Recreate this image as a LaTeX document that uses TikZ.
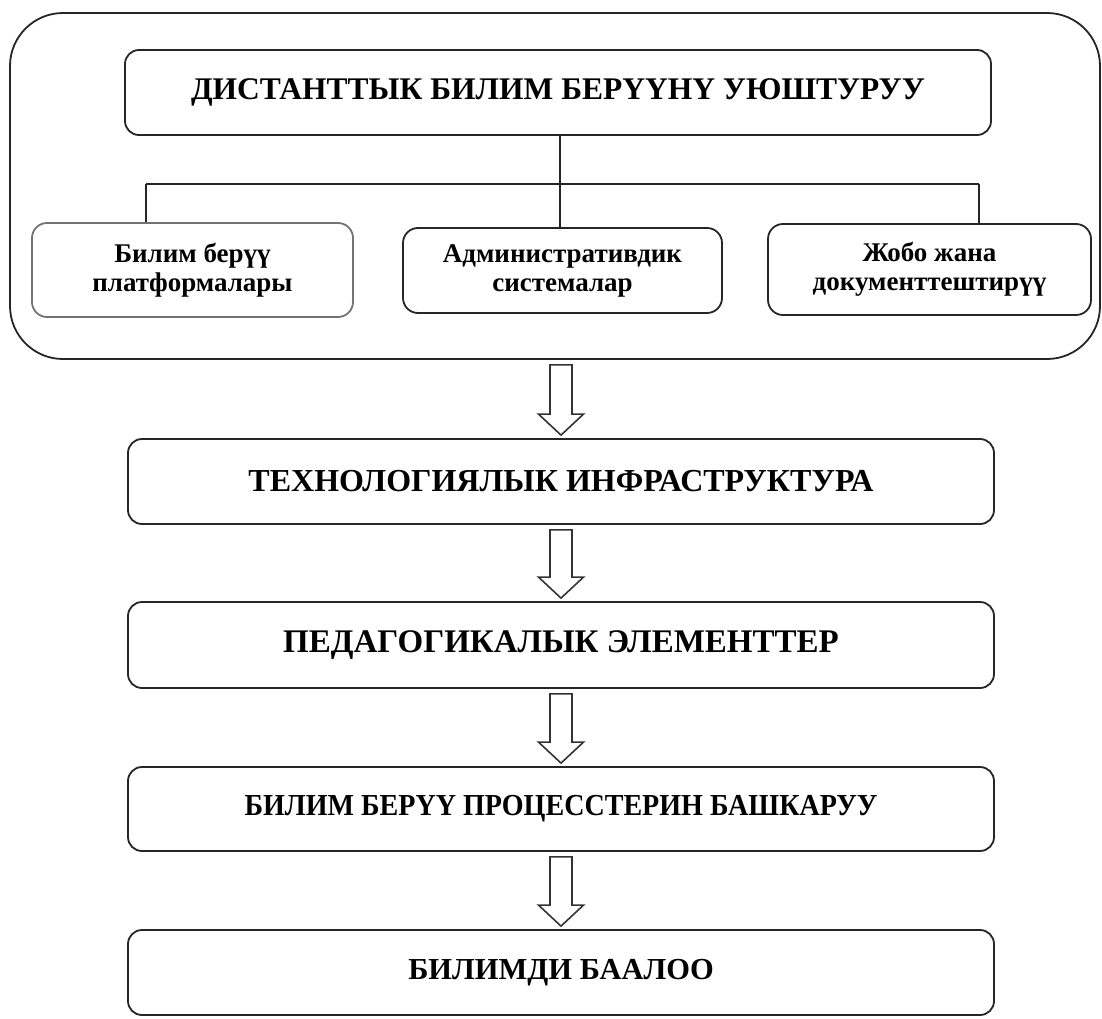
\documentclass[tikz,border=0pt]{standalone}
\usepackage{fontspec}
\setmainfont{Liberation Serif}
\usetikzlibrary{calc}
\newcommand\hollowarrow[2]{%
  \coordinate (ta) at ($(#1.south -| #2.north)+(0,5)$);
  \coordinate (tb) at ($(#2.north)+(0,-3)$);
  \draw[arrowline] ($(ta)+(-11,0)$) -- ($(tb)+(-11,-21)$) -- ($(tb)+(-22.5,-21)$) -- (tb)
    -- ($(tb)+(22.5,-21)$) -- ($(tb)+(11,-21)$) -- ($(ta)+(11,0)$) -- cycle;}
\newcommand\fsz[1]{\fontsize{#1}{#1}\selectfont\bfseries}
\begin{document}
\begin{tikzpicture}[x=1pt,y=-1pt,
  frame/.style={draw=black!85,line width=1.8pt,rounded corners=53pt,minimum width=1090pt,minimum height=346pt},
  mainbox/.style={draw=black!85,line width=1.8pt,rounded corners=14pt,minimum width=866pt,inner sep=0pt},
  subbox/.style={draw=black!85,line width=1.8pt,rounded corners=15pt,align=center,
    font=\fontsize{27}{29}\selectfont\bfseries,inner sep=0pt},
  conn/.style={draw=black!85,line width=1.6pt},
  arrowline/.style={draw=black!80,line width=1.6pt,fill=white,line join=miter}]
\useasboundingbox (0,0) rectangle (1102,1019);
\fill[white] (0,0) rectangle (1102,1019);
\node[frame] (outer) at (555,186) {};
\node[mainbox,minimum height=85pt,font=\fsz{31.5}] (top) at (558,92.5) {ДИСТАНТТЫК БИЛИМ БЕРҮҮНҮ УЮШТУРУУ};
\node[subbox,draw=black!55,minimum width=321pt,minimum height=94pt] (left) at (192.5,270) {Билим берүү\\платформалары};
\node[subbox,minimum width=319pt,minimum height=85pt] (mid) at (562.5,270.5) {Административдик\\системалар};
\node[subbox,minimum width=323pt,minimum height=91pt] (right) at (929.5,269.5) {Жобо жана\\документтештирүү};
\coordinate (jn) at (560,184);
\coordinate (hl) at (146,184);
\coordinate (hr) at (979,184);
\draw[conn] (top.south -| jn) -- (jn);
\draw[conn] (hl) -- (hr);
\draw[conn] (hl) -- (hl |- left.north);
\draw[conn] (jn) -- (jn |- mid.north);
\draw[conn] (hr) -- (hr |- right.north);
\node[mainbox,minimum height=85pt,font=\fsz{32}] (b2) at (561,481.5) {ТЕХНОЛОГИЯЛЫК ИНФРАСТРУКТУРА};
\node[mainbox,minimum height=86pt,font=\fsz{33}] (b3) at (561,645) {ПЕДАГОГИКАЛЫК ЭЛЕМЕНТТЕР};
\node[mainbox,minimum height=84pt,font=\fsz{30.5}] (b4) at (561,809) {\scalebox{0.92}[1]{БИЛИМ БЕРҮҮ ПРОЦЕССТЕРИН БАШКАРУУ}};
\node[mainbox,minimum height=85pt,font=\fsz{30.5}] (b5) at (561,972.5) {БИЛИМДИ БААЛОО};
\hollowarrow{outer}{b2}
\hollowarrow{b2}{b3}
\hollowarrow{b3}{b4}
\hollowarrow{b4}{b5}
\end{tikzpicture}
\end{document}
